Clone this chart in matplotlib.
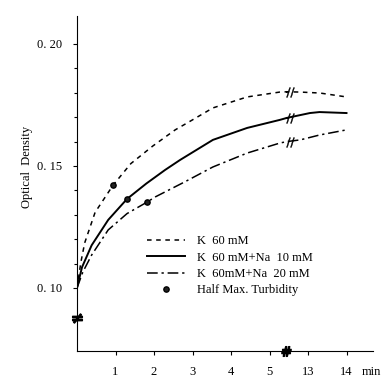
import numpy as np
import matplotlib.pyplot as plt

plt.rcParams['font.family'] = ['Liberation Serif', 'DejaVu Serif']

# time (min) / optical density
t_k60 = [0, 0.1, 0.2, 0.47, 0.94, 1.4, 1.97, 2.55, 3.0, 3.53, 4.42, 5.27, 5.45,
         12.45, 12.79, 13.31, 14.0]
od_k60 = [0.100, 0.1105, 0.1185, 0.131, 0.1422, 0.151, 0.1582, 0.1648, 0.1689,
          0.1738, 0.1783, 0.1803, 0.1804, 0.1804, 0.1803, 0.1799, 0.1783]

t_na10 = [0, 0.13, 0.38, 0.81, 1.3, 1.8, 2.29, 2.68, 3.53, 4.42, 5.27, 5.45,
          12.45, 13.05, 13.3, 14.0]
od_na10 = [0.100, 0.1085, 0.1175, 0.1279, 0.1365, 0.1428, 0.1484, 0.1525,
           0.1607, 0.1656, 0.1689, 0.1697, 0.1697, 0.1717, 0.1721, 0.1717]

t_na20 = [0, 0.15, 0.38, 0.81, 1.3, 1.82, 2.03, 2.8, 3.53, 4.42, 5.27, 5.45,
          12.45, 12.8, 13.3, 14.0]
od_na20 = [0.100, 0.1065, 0.1135, 0.1238, 0.1305, 0.1352, 0.1373, 0.1435,
           0.1496, 0.1553, 0.1594, 0.160, 0.160, 0.1607, 0.1627, 0.1648]

# half max turbidity points
half_t = [0.94, 1.3, 1.82]
half_od = [0.1422, 0.1365, 0.1352]

xtick_t = [1, 2, 3, 4, 5, 13, 14]
labels = ['K  60 mM', 'K  60 mM+Na  10 mM', 'K  60mM+Na  20 mM',
          'Half Max. Turbidity']

BREAK_T = 5.45   # axis is cut between 5.45 and 12.45 min
GAP = 7.0


def pos(t):
    t = np.asarray(t, dtype=float)
    return np.where(t > BREAK_T + 0.5, t - GAP, t)


fig = plt.figure(figsize=(3.85, 3.79), dpi=100)
ax = fig.add_axes([0.2, 0.074, 0.769, 0.884])

styles = [dict(ls=(0, (3, 3)), lw=1.1),
          dict(ls='-', lw=1.4),
          dict(ls=(0, (7, 2.5, 1.5, 2.5)), lw=1.1)]
series = [(t_k60, od_k60), (t_na10, od_na10), (t_na20, od_na20)]
handles = []
for (t, od), st, lab in zip(series, styles, labels):
    h, = ax.plot(pos(t), od, color='k', label=lab, **st)
    handles.append(h)
    # break mark on each curve
    ax.plot(BREAK_T + 0.07, np.interp(BREAK_T, t, od), marker='$//$',
            color='k', ms=7, mew=0.3, ls='none')

dots, = ax.plot(pos(half_t), half_od, 'o', color='k', ms=3.8,
                mfc='#222222', ls='none', label=labels[3])
handles.append(dots)

# axis break marks
ax.plot(BREAK_T - 0.02, 0.0742, marker='$\\#$', color='k', ms=7,
        clip_on=False, ls='none')
ax.plot(0, 0.0877, marker='$\\neq$', color='k', ms=7,
        clip_on=False, ls='none')

ax.set_xlim(0, 7.69)
ax.set_ylim(0.0742, 0.2115)
ax.spines['top'].set_visible(False)
ax.spines['right'].set_visible(False)

ax.set_xticks(pos(xtick_t), [str(v) for v in xtick_t])
ax.set_yticks([0.10, 0.15, 0.20], ['0. 10', '0. 15', '0. 20'])
ax.set_yticks(np.arange(0.11, 0.20, 0.01), minor=True)
ax.tick_params(labelsize=9, length=3, width=0.8, pad=8)
ax.tick_params(axis='y', which='minor', length=2.5, width=0.8)
ax.text(0.963, -0.062, 'min', transform=ax.transAxes, fontsize=9,
        ha='left', va='center')
ax.text(-0.169, 0.55, 'Optical  Density', transform=ax.transAxes,
        rotation=90, fontsize=9, ha='center', va='center')

ax.legend(handles=handles, loc='upper left', bbox_to_anchor=(0.22, 0.36),
          frameon=False, fontsize=9, handlelength=3.0, handletextpad=1.0,
          labelspacing=0.35, borderaxespad=0)

plt.savefig('out.png', dpi=100)
